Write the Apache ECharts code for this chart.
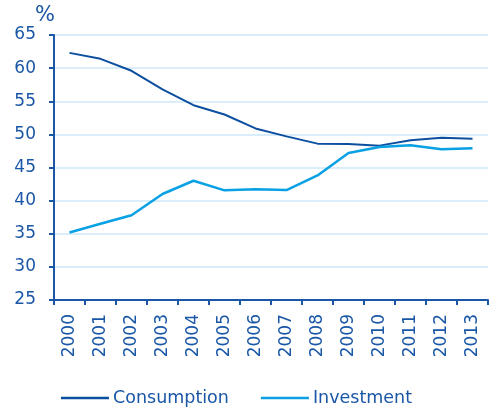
<!DOCTYPE html>
<html>
<head>
<meta charset="utf-8">
<script src="https://cdn.jsdelivr.net/npm/echarts@6/dist/echarts.min.js"></script>
<style>
  html, body { margin: 0; padding: 0; background: #fff; }
  #chart { width: 489px; height: 412px; }
</style>
</head>
<body>
<div id="chart"></div>
<script>
// Share of GDP, per cent
const years = ['2000','2001','2002','2003','2004','2005','2006','2007','2008','2009','2010','2011','2012','2013'];
const consumption = [62.3, 61.4, 59.6, 56.8, 54.4, 53.0, 50.9, 49.7, 48.6, 48.55, 48.3, 49.1, 49.5, 49.35];
const investment  = [35.2, 36.5, 37.8, 41.0, 43.0, 41.55, 41.7, 41.6, 43.8, 47.2, 48.1, 48.35, 47.75, 47.9];
const yTicks = { min: 25, max: 65, step: 5 };

const dark = '#0d4f9f';
const light = '#0aa0e4';
const textColor = '#1a57a6';
const font = 'DejaVu Sans';

const chart = echarts.init(document.getElementById('chart'), null, { renderer: 'canvas' });
chart.setOption({
  animation: false,
  textStyle: { fontFamily: font },
  grid: { left: 54, right: 1, top: 35, bottom: 112, containLabel: false },
  graphic: [{
    type: 'text', left: 35, top: 5,
    style: { text: '%', fontSize: 21, fontFamily: font, fill: textColor }
  }],
  legend: {
    bottom: 0, left: 56,
    itemWidth: 48, itemHeight: 10, itemGap: 32,
    icon: 'path://M0,4 L48,4 L48,6.5 L0,6.5 Z',
    textStyle: { fontSize: 17.5, color: textColor, fontFamily: font, padding: [0, 0, 0, -1] },
    data: [
      { name: 'Consumption', itemStyle: { color: dark } },
      { name: 'Investment', itemStyle: { color: light } }
    ]
  },
  xAxis: {
    type: 'category',
    data: years,
    boundaryGap: true,
    axisLine: { lineStyle: { color: textColor, width: 2 } },
    axisTick: { show: true, length: 5, lineStyle: { color: textColor, width: 2 } },
    axisLabel: { rotate: 90, margin: 14, fontSize: 17, color: textColor, fontFamily: font },
    splitLine: { show: false }
  },
  yAxis: {
    type: 'value',
    min: yTicks.min, max: yTicks.max, interval: yTicks.step,
    axisLine: { show: true, lineStyle: { color: textColor, width: 2 } },
    axisTick: { show: true, length: 5, lineStyle: { color: textColor, width: 2 } },
    axisLabel: { margin: 18, fontSize: 17, color: textColor, fontFamily: font },
    splitLine: { lineStyle: { color: '#cde9f8', width: 1.5 } }
  },
  series: [
    {
      name: 'Consumption', type: 'line', data: consumption,
      symbol: 'none', lineStyle: { color: dark, width: 2 }, itemStyle: { color: dark }
    },
    {
      name: 'Investment', type: 'line', data: investment,
      symbol: 'none', lineStyle: { color: light, width: 2.5 }, itemStyle: { color: light }
    }
  ]
});
</script>
</body>
</html>
